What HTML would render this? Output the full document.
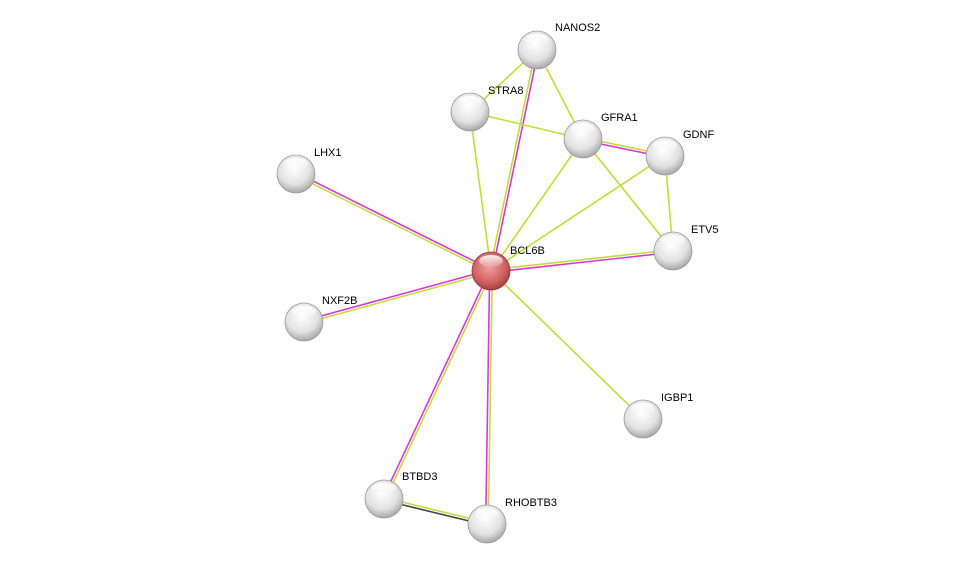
<!DOCTYPE html>
<html><head><meta charset="utf-8"><style>
html,body{margin:0;padding:0;background:#fff;width:976px;height:569px;overflow:hidden}
svg text{font-family:"Liberation Sans",sans-serif;font-size:11px;fill:#000}
</style></head><body>
<svg id="s" width="976" height="569" viewBox="0 0 976 569">
<defs>
<radialGradient id="g" cx="0.45" cy="0.35" r="0.7">
<stop offset="0" stop-color="#ffffff"/><stop offset="0.6" stop-color="#e2e2e2"/><stop offset="1" stop-color="#9a9a9a"/></radialGradient>
<radialGradient id="r" cx="0.45" cy="0.4" r="0.7">
<stop offset="0" stop-color="#f0a0a0"/><stop offset="0.6" stop-color="#d06060"/><stop offset="1" stop-color="#8a3030"/></radialGradient>
<linearGradient id="h" x1="0" y1="0" x2="0" y2="1"><stop offset="0" stop-color="#fff" stop-opacity="0.95"/><stop offset="1" stop-color="#fff" stop-opacity="0.1"/></linearGradient>
</defs>
<g id="edges"></g>
<g id="nodes"></g>
<text x="555" y="31">NANOS2</text>
<text x="488" y="94">STRA8</text>
<text x="601" y="121">GFRA1</text>
<text x="683" y="138">GDNF</text>
<text x="314" y="156">LHX1</text>
<text x="691" y="233">ETV5</text>
<text x="510" y="254">BCL6B</text>
<text x="322" y="304">NXF2B</text>
<text x="661" y="401">IGBP1</text>
<text x="402" y="480">BTBD3</text>
<text x="505" y="506">RHOBTB3</text>
</svg>
<script>
var N={NANOS2:[537,50],STRA8:[470,112],GFRA1:[583,139],GDNF:[665,156],LHX1:[296,174],ETV5:[673,251],BCL6B:[491,271],NXF2B:[304,322],IGBP1:[643,419],BTBD3:[384,499],RHOBTB3:[487,524]};
var G="#c3dc38",M="#d838d8",K="#444";
var E=[["BCL6B","LHX1",[G,M]],["BCL6B","NXF2B",[G,M]],["BCL6B","NANOS2",[G,M]],["BCL6B","STRA8",[G]],["BCL6B","GFRA1",[G]],["BCL6B","GDNF",[G]],["BCL6B","ETV5",[G,M]],["BCL6B","IGBP1",[G]],["BCL6B","BTBD3",[G,M]],["BCL6B","RHOBTB3",[G,M]],["NANOS2","STRA8",[G]],["NANOS2","GFRA1",[G]],["STRA8","GFRA1",[G]],["GFRA1","GDNF",[G,M]],["GFRA1","ETV5",[G]],["GDNF","ETV5",[G]],["BTBD3","RHOBTB3",[G,K]]];
var ns="http://www.w3.org/2000/svg",eg=document.getElementById("edges"),ng=document.getElementById("nodes");
E.forEach(function(e){var a=N[e[0]],b=N[e[1]],dx=b[0]-a[0],dy=b[1]-a[1],L=Math.hypot(dx,dy),px=-dy/L,py=dx/L,n=e[2].length;
e[2].forEach(function(c,i){var o=(i-(n-1)/2)*2.6;var l=document.createElementNS(ns,"line");
l.setAttribute("x1",a[0]+px*o);l.setAttribute("y1",a[1]+py*o);l.setAttribute("x2",b[0]+px*o);l.setAttribute("y2",b[1]+py*o);
l.setAttribute("stroke",c);l.setAttribute("stroke-width","1.6");eg.appendChild(l);});});
for(var k in N){var p=N[k];var c=document.createElementNS(ns,"circle");c.setAttribute("cx",p[0]);c.setAttribute("cy",p[1]);c.setAttribute("r",19);
c.setAttribute("fill",k=="BCL6B"?"url(#r)":"url(#g)");c.setAttribute("stroke",k=="BCL6B"?"#8a3a3a":"#9a9a9a");c.setAttribute("stroke-width","0.8");ng.appendChild(c);
var h=document.createElementNS(ns,"ellipse");h.setAttribute("cx",p[0]);h.setAttribute("cy",p[1]-10);h.setAttribute("rx",12);h.setAttribute("ry",6);h.setAttribute("fill","url(#h)");ng.appendChild(h);}
</script>
</body></html>
